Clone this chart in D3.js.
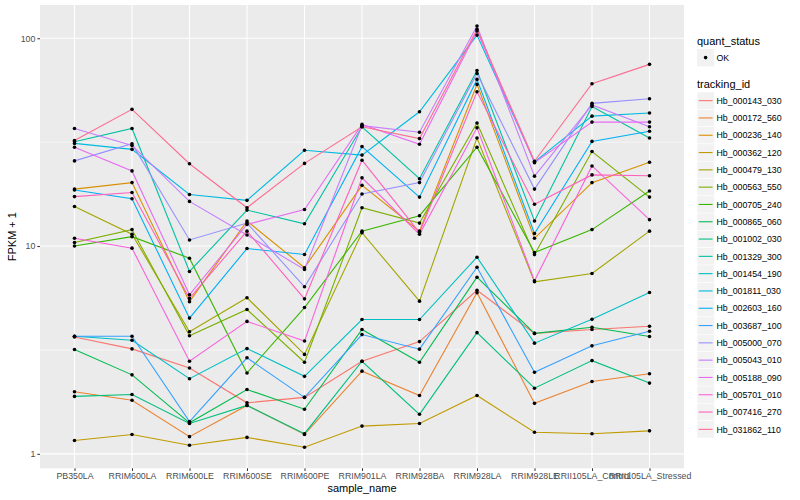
<!DOCTYPE html>
<html>
<head>
<meta charset="utf-8">
<script src="https://cdn.jsdelivr.net/npm/d3@7"></script>
<style>
  body { margin: 0; background: #fff; }
  text { font-family: "Liberation Sans", Arial, Helvetica, sans-serif; }
</style>
</head>
<body>
<div id="chart"></div>
<script>
const samples = ['PB350LA', 'RRIM600LA', 'RRIM600LE', 'RRIM600SE', 'RRIM600PE', 'RRIM901LA',
  'RRIM928BA', 'RRIM928LA', 'RRIM928LE', 'RRII105LA_Control', 'RRII105LA_Stressed'];

const trackingIds = ['Hb_000143_030', 'Hb_000172_560', 'Hb_000236_140', 'Hb_000362_120', 'Hb_000479_130',
  'Hb_000563_550', 'Hb_000705_240', 'Hb_000865_060', 'Hb_001002_030', 'Hb_001329_300', 'Hb_001454_190',
  'Hb_001811_030', 'Hb_002603_160', 'Hb_003687_100', 'Hb_005000_070', 'Hb_005043_010', 'Hb_005188_090',
  'Hb_005701_010', 'Hb_007416_270', 'Hb_031862_110'];

// FPKM + 1, one array per tracking_id, in sample order
const hb_000143_030 = [3.65, 3.20, 2.59, 1.76, 1.87, 2.79, 3.47, 6.13, 3.80, 3.97, 4.11];
const hb_000172_560 = [1.99, 1.81, 1.21, 1.71, 1.24, 2.50, 1.91, 5.96, 1.75, 2.23, 2.43];
const hb_000236_140 = [18.8, 20.2, 5.4, 13.2, 7.87, 19.6, 11.8, 60.0, 10.9, 20.2, 25.3];
const hb_000362_120 = [1.16, 1.24, 1.10, 1.20, 1.076, 1.36, 1.40, 1.91, 1.27, 1.25, 1.29];
const hb_000479_130 = [15.5, 11.4, 3.87, 5.64, 3.01, 11.6, 5.43, 33.1, 6.73, 7.38, 11.8];
const hb_000563_550 = [10.4, 12.0, 3.70, 4.95, 2.76, 15.3, 12.9, 39.1, 9.1, 28.5, 17.2];
const hb_000705_240 = [10.0, 11.1, 8.74, 2.45, 5.06, 11.8, 14.0, 29.9, 9.3, 12.0, 18.4];
const hb_000865_060 = [3.18, 2.40, 1.41, 2.04, 1.64, 3.97, 2.76, 7.08, 3.80, 4.07, 3.67];
const hb_001002_030 = [1.89, 1.93, 1.40, 1.71, 1.25, 2.79, 1.55, 3.83, 2.07, 2.81, 2.19];
const hb_001329_300 = [31.8, 36.8, 7.55, 14.9, 12.8, 37.5, 21.1, 70.0, 13.2, 47.0, 33.1];
const hb_001454_190 = [3.68, 3.52, 2.30, 3.21, 2.36, 4.43, 4.43, 8.84, 3.41, 4.44, 5.98];
const hb_001811_030 = [31.2, 29.2, 17.7, 16.6, 28.9, 27.4, 44.3, 103.6, 25.4, 42.2, 43.7];
const hb_002603_160 = [18.6, 16.9, 4.50, 9.73, 9.11, 30.1, 17.2, 63.4, 11.5, 31.9, 35.7];
const hb_003687_100 = [3.68, 3.68, 1.43, 2.90, 1.87, 3.75, 3.19, 7.91, 2.47, 3.31, 3.89];
const hb_005000_070 = [25.7, 31.1, 10.7, 12.9, 6.37, 17.8, 20.2, 67.7, 18.8, 48.6, 51.2];
const hb_005043_010 = [36.8, 30.5, 16.4, 11.3, 7.71, 38.0, 35.3, 114.5, 21.7, 47.8, 37.5];
const hb_005188_090 = [29.9, 23.0, 5.83, 12.7, 15.0, 38.5, 30.9, 108.4, 25.2, 39.5, 39.5];
const hb_005701_010 = [10.9, 9.77, 2.79, 4.34, 3.49, 21.3, 11.4, 37.1, 6.8, 24.3, 13.4];
const hb_007416_270 = [17.3, 18.1, 5.6, 11.8, 5.57, 25.9, 11.6, 55.3, 15.9, 22.0, 21.8];
const hb_031862_110 = [32.2, 45.5, 24.9, 15.3, 25.0, 37.5, 32.9, 110.4, 25.6, 60.4, 74.9];

const seriesValues = [hb_000143_030, hb_000172_560, hb_000236_140, hb_000362_120, hb_000479_130,
  hb_000563_550, hb_000705_240, hb_000865_060, hb_001002_030, hb_001329_300, hb_001454_190,
  hb_001811_030, hb_002603_160, hb_003687_100, hb_005000_070, hb_005043_010, hb_005188_090,
  hb_005701_010, hb_007416_270, hb_031862_110];

const yTicks = [1, 10, 100];
const yMinor = [Math.sqrt(10), Math.sqrt(1000)];

// ggplot hue palette for 20 levels
const palette = ['#F8766D', '#EA8331', '#D89000', '#C09B00', '#A3A500', '#7CAE00', '#39B600', '#00BB4E',
  '#00BF7D', '#00C1A3', '#00BFC4', '#00BAE0', '#00B0F6', '#35A2FF', '#9590FF', '#C77CFF', '#E76BF3',
  '#FA62DB', '#FF62BC', '#FF6C91'];

const width = 800, height = 500;
const panel = {left: 40, right: 684, top: 5, bottom: 468.3};

const svg = d3.select('#chart').append('svg')
  .attr('width', width)
  .attr('height', height);

const x = d3.scalePoint()
  .domain(samples)
  .range([panel.left, panel.right])
  .padding(0.6);

// log scale with ggplot's 5% expansion
const allVals = seriesValues.flat();
const lo = Math.log10(d3.min(allVals)), hi = Math.log10(d3.max(allVals));
const pad = (hi - lo) * 0.05;
const y = d3.scaleLog()
  .domain([Math.pow(10, lo - pad), Math.pow(10, hi + pad)])
  .range([panel.bottom, panel.top]);

svg.append('rect')
  .attr('x', panel.left).attr('y', panel.top)
  .attr('width', panel.right - panel.left)
  .attr('height', panel.bottom - panel.top)
  .attr('fill', '#EBEBEB');

const grid = svg.append('g');
grid.selectAll('.minor').data(yMinor).enter().append('line')
  .attr('x1', panel.left).attr('x2', panel.right)
  .attr('y1', d => y(d)).attr('y2', d => y(d))
  .attr('stroke', '#fff').attr('stroke-width', 0.55);
grid.selectAll('.major').data(yTicks).enter().append('line')
  .attr('x1', panel.left).attr('x2', panel.right)
  .attr('y1', d => y(d)).attr('y2', d => y(d))
  .attr('stroke', '#fff').attr('stroke-width', 1.1);
grid.selectAll('.vmajor').data(samples).enter().append('line')
  .attr('x1', d => x(d)).attr('x2', d => x(d))
  .attr('y1', panel.top).attr('y2', panel.bottom)
  .attr('stroke', '#fff').attr('stroke-width', 1.1);

const line = d3.line()
  .x((d, i) => x(samples[i]))
  .y(d => y(d));

svg.append('g').selectAll('path')
  .data(seriesValues)
  .enter().append('path')
  .attr('d', line)
  .attr('fill', 'none')
  .attr('stroke', (d, i) => palette[i])
  .attr('stroke-width', 1.1);

const pts = svg.append('g');
seriesValues.forEach(vals => {
  pts.selectAll(null).data(vals).enter().append('circle')
    .attr('cx', (d, i) => x(samples[i]))
    .attr('cy', d => y(d))
    .attr('r', 1.8)
    .attr('fill', '#000');
});

// axes
const yAxis = d3.axisLeft(y).tickValues(yTicks).tickFormat(d3.format('d')).tickSize(2.7).tickPadding(2);
const gy = svg.append('g').attr('transform', `translate(${panel.left},0)`).call(yAxis);
gy.select('.domain').remove();
gy.selectAll('line').attr('stroke', '#333');
gy.selectAll('text').attr('fill', '#4D4D4D').style('font-size', '8.8px')
  .style('font-family', '"Liberation Sans", Arial, sans-serif');

const xAxis = d3.axisBottom(x).tickSize(2.7).tickPadding(2);
const gx = svg.append('g').attr('transform', `translate(0,${panel.bottom})`).call(xAxis);
gx.select('.domain').remove();
gx.selectAll('line').attr('stroke', '#333');
gx.selectAll('text').attr('fill', '#4D4D4D').style('font-size', '8.8px')
  .style('font-family', '"Liberation Sans", Arial, sans-serif');

svg.append('text')
  .attr('x', (panel.left + panel.right) / 2).attr('y', 492)
  .attr('text-anchor', 'middle')
  .style('font-size', '11px')
  .text('sample_name');

svg.append('text')
  .attr('transform', `translate(16,${(panel.top + panel.bottom) / 2}) rotate(-90)`)
  .attr('text-anchor', 'middle')
  .style('font-size', '11px')
  .text('FPKM + 1');

// legends
const lg = svg.append('g');
lg.append('text').attr('x', 697).attr('y', 44.5).style('font-size', '11px').text('quant_status');
lg.append('rect').attr('x', 697).attr('y', 49).attr('width', 17.3).attr('height', 17.3).attr('fill', '#F2F2F2');
lg.append('circle').attr('cx', 705.6).attr('cy', 57.6).attr('r', 1.8).attr('fill', '#000');
lg.append('text').attr('x', 716.5).attr('y', 60.8).style('font-size', '8.8px').text('OK');

lg.append('text').attr('x', 697).attr('y', 88).style('font-size', '11px').text('tracking_id');
const keyTop = 92, keyH = 17.3;
const keys = lg.selectAll('.key').data(trackingIds).enter().append('g')
  .attr('transform', (d, i) => `translate(697,${keyTop + i * keyH})`);
keys.append('rect').attr('width', 17.3).attr('height', keyH).attr('fill', '#F2F2F2')
  .attr('stroke', '#fff').attr('stroke-width', 0.5);
keys.append('line').attr('x1', 1.7).attr('x2', 15.6).attr('y1', keyH / 2).attr('y2', keyH / 2)
  .attr('stroke', (d, i) => palette[i]).attr('stroke-width', 1.1);
keys.append('text').attr('x', 19.5).attr('y', keyH / 2 + 3.2).style('font-size', '8.8px').text(d => d);
</script>
</body>
</html>
